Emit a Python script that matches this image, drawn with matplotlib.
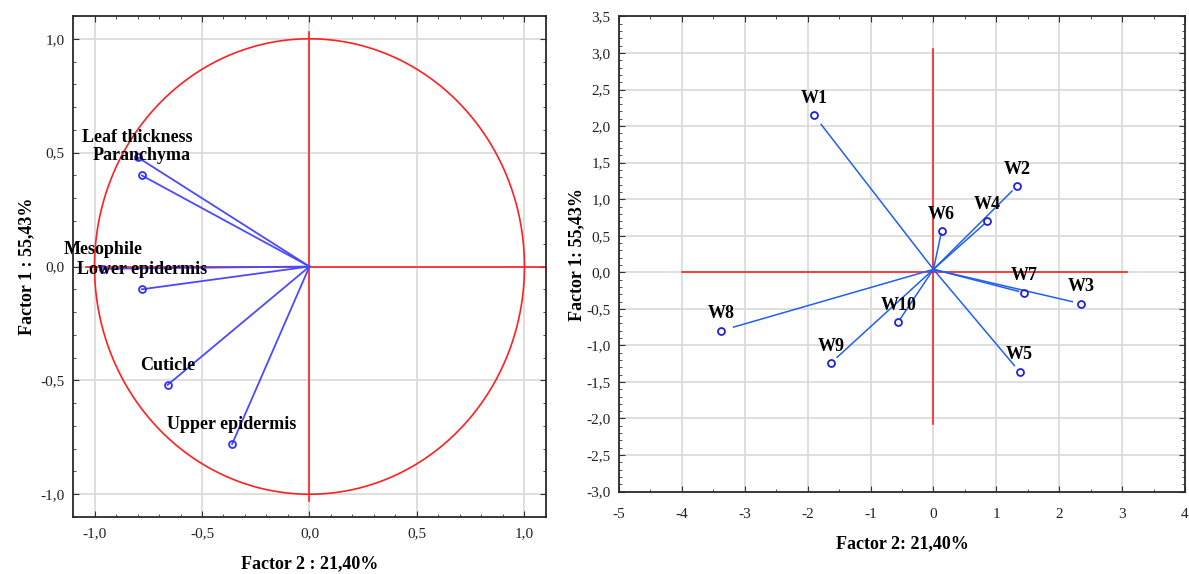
import numpy as np
import matplotlib
matplotlib.use('Agg')
import matplotlib.pyplot as plt
from matplotlib.ticker import MultipleLocator, FuncFormatter

# variable loadings (factor 2, factor 1)
var_names = ['Leaf thickness', 'Paranchyma', 'Mesophile', 'Lower epidermis', 'Cuticle', 'Upper epidermis']
var_f2 = [-0.80, -0.78, -0.96, -0.78, -0.66, -0.36]
var_f1 = [0.48, 0.40, -0.01, -0.10, -0.52, -0.78]

# case scores
case_names = ['W1', 'W2', 'W3', 'W4', 'W5', 'W6', 'W7', 'W8', 'W9', 'W10']
case_f2 = [-1.90, 1.33, 2.35, 0.86, 1.37, 0.13, 1.44, -3.38, -1.63, -0.56]
case_f1 = [2.15, 1.18, -0.43, 0.70, -1.36, 0.56, -0.28, -0.80, -1.24, -0.68]

plt.rcParams['font.family'] = ['Liberation Serif', 'DejaVu Serif']

comma = FuncFormatter(lambda v, p: ('%.1f' % v).replace('.', ','))
intfmt = FuncFormatter(lambda v, p: '%d' % round(v))

fig = plt.figure(figsize=(11.89, 5.74), dpi=100)
ax1 = fig.add_axes([0.0614, 0.0993, 0.3978, 0.8728])
ax2 = fig.add_axes([0.5206, 0.1436, 0.4760, 0.8277])


def style(ax, xpad):
    ax.grid(True, which='major', color='#dcdcdc', lw=1.3, zorder=0)
    ax.set_axisbelow(True)
    for s in ax.spines.values():
        s.set_color('#2a2a2a')
        s.set_linewidth(1.3)
    ax.tick_params(which='both', direction='in', top=True, right=True,
                   colors='#333333', labelsize=11, labelcolor='#222222')
    ax.tick_params(which='major', length=4)
    ax.tick_params(which='minor', length=2.5)
    ax.tick_params(axis='x', which='major', pad=xpad)
    ax.tick_params(axis='y', which='major', pad=6)


# left: correlation circle
style(ax1, 7)
t = np.linspace(0, 2 * np.pi, 400)
ax1.plot(np.cos(t), np.sin(t), color='#ff2020', lw=1.2, zorder=2)
ax1.plot([-1.04, 1.1], [0, 0], color='#ff2020', lw=1.2, zorder=2)
ax1.plot([0, 0], [-1.03, 1.03], color='#ff2020', lw=1.2, zorder=2)
for name, x, y in zip(var_names, var_f2, var_f1):
    ax1.plot([0, x], [0, y], color='#4a4aff', lw=1.3, zorder=3)
    ax1.plot(x, y, 'o', mfc='none', mec='#3030ff', ms=5, mew=1.3, zorder=4)
    ax1.annotate(name, (x, y), xytext=(0, 8), textcoords='offset points',
                 ha='center', va='bottom', fontsize=13, fontweight='bold', zorder=5)
ax1.set_xlim(-1.1, 1.1)
ax1.set_ylim(-1.1, 1.1)
ax1.xaxis.set_major_locator(MultipleLocator(0.5))
ax1.yaxis.set_major_locator(MultipleLocator(0.5))
ax1.xaxis.set_minor_locator(MultipleLocator(0.1))
ax1.yaxis.set_minor_locator(MultipleLocator(0.1))
ax1.xaxis.set_major_formatter(comma)
ax1.yaxis.set_major_formatter(comma)
ax1.set_xlabel('Factor 2 : 21,40%', fontsize=13, fontweight='bold', labelpad=11)
ax1.set_ylabel('Factor 1 : 55,43%', fontsize=13, fontweight='bold', labelpad=4)

# right: case scores
style(ax2, 12)
ax2.plot([-4.0, 3.08], [0, 0], color='#ff2020', lw=1.2, zorder=2)
ax2.plot([0, 0], [-2.08, 3.05], color='#ff2020', lw=1.2, zorder=2)
for name, x, y in zip(case_names, case_f2, case_f1):
    ax2.plot([0, 0.94 * x], [0.04, 0.04 + 0.94 * (y - 0.04)], color='#2060f0', lw=1.1, zorder=3)
    ax2.plot(x, y, 'o', mfc='none', mec='#2020e0', ms=5, mew=1.3, zorder=4)
    ax2.annotate(name, (x, y), xytext=(0, 6), textcoords='offset points',
                 ha='center', va='bottom', fontsize=13, fontweight='bold', zorder=5)
ax2.set_xlim(-5, 4)
ax2.set_ylim(-3.0, 3.5)
ax2.xaxis.set_major_locator(MultipleLocator(1))
ax2.yaxis.set_major_locator(MultipleLocator(0.5))
ax2.xaxis.set_minor_locator(MultipleLocator(0.5))
ax2.yaxis.set_minor_locator(MultipleLocator(0.1))
ax2.xaxis.set_major_formatter(intfmt)
ax2.yaxis.set_major_formatter(comma)
ax2.set_xlabel('Factor 2: 21,40%', fontsize=13, fontweight='bold', labelpad=10)
ax2.set_ylabel('Factor 1: 55,43%', fontsize=13, fontweight='bold', labelpad=1)

fig.savefig('out.png', dpi=100)
